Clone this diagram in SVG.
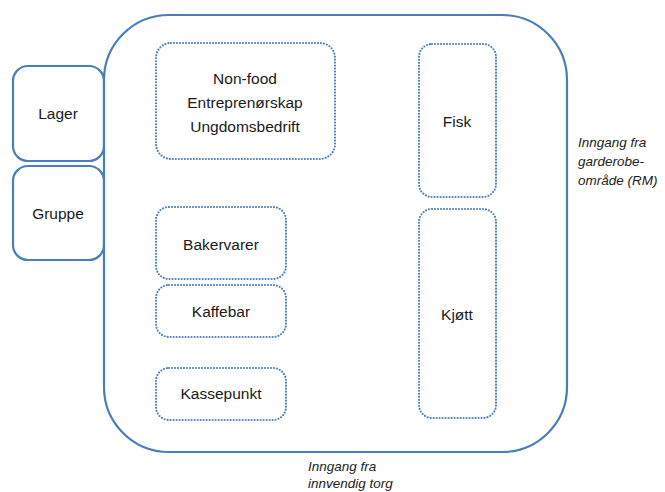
<svg xmlns="http://www.w3.org/2000/svg" width="665" height="492" viewBox="0 0 665 492">
<style>
.solid{fill:#fff;stroke:#4a7ebb;stroke-width:2.2}
.dot{fill:none;stroke:#4f81bd;stroke-width:2.2;stroke-dasharray:0 3;stroke-linecap:round}
.t{font-family:"Liberation Sans",Arial,sans-serif;font-size:15.5px;fill:#1a1a1a;text-anchor:middle}
.i{font-family:"Liberation Sans",Arial,sans-serif;font-size:13.5px;font-style:italic;fill:#222}
</style>
<rect width="665" height="492" fill="#fff"/>
<g id="lager"><rect class="solid" x="13" y="66" width="91" height="95" rx="15"/><text class="t" x="58" y="119">Lager</text></g>
<g id="gruppe"><rect class="solid" x="13" y="166" width="91" height="94" rx="15"/><text class="t" x="58" y="219">Gruppe</text></g>
<g id="rom"><rect class="solid" x="104" y="15" width="463" height="437" rx="65" fill="none"/></g>
<g id="nonfood"><rect class="dot" x="156" y="43" width="179" height="116" rx="15"/><text class="t" x="245" y="84">Non-food</text><text class="t" x="245" y="108">Entreprenørskap</text><text class="t" x="245" y="132">Ungdomsbedrift</text></g>
<g id="fisk"><rect class="dot" x="419" y="44" width="77" height="153" rx="13"/><text class="t" x="457" y="127">Fisk</text></g>
<g id="kjott"><rect class="dot" x="419" y="209" width="77" height="209" rx="13"/><text class="t" x="457" y="320">Kjøtt</text></g>
<g id="bakervarer"><rect class="dot" x="156" y="207" width="130" height="72" rx="13"/><text class="t" x="221" y="250">Bakervarer</text></g>
<g id="kaffebar"><rect class="dot" x="156" y="285" width="130" height="52" rx="13"/><text class="t" x="221" y="317">Kaffebar</text></g>
<g id="kassepunkt"><rect class="dot" x="156" y="368" width="130" height="52" rx="13"/><text class="t" x="221" y="399">Kassepunkt</text></g>
<g id="connectors"/>
<g id="inngang-rm"><text class="i" x="578" y="147">Inngang fra</text><text class="i" x="578" y="166">garderobe-</text><text class="i" x="578" y="185">område (RM)</text></g>
<g id="inngang-torg"><text class="i" x="308" y="471">Inngang fra</text><text class="i" x="308" y="488">innvendig torg</text></g>
</svg>
